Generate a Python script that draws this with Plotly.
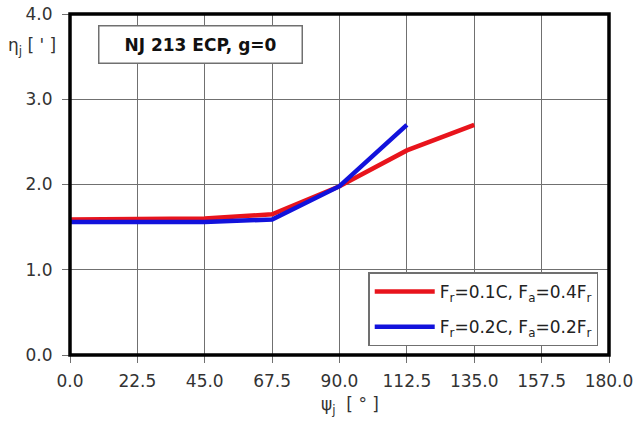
import plotly.graph_objects as go

# Angular positions and eta values for the two load cases
psi_red = [0.0, 22.5, 45.0, 67.5, 90.0, 112.5, 135.0]
eta_red = [1.59, 1.59, 1.60, 1.65, 1.98, 2.40, 2.70]

psi_blue = [0.0, 22.5, 45.0, 67.5, 90.0, 112.5]
eta_blue = [1.56, 1.56, 1.56, 1.59, 1.98, 2.70]

x_ticks = [0.0, 22.5, 45.0, 67.5, 90.0, 112.5, 135.0, 157.5, 180.0]
y_ticks = [0.0, 1.0, 2.0, 3.0, 4.0]

name_red = "F<sub>r</sub>=0.1C, F<sub>a</sub>=0.4F<sub>r</sub>"
name_blue = "F<sub>r</sub>=0.2C, F<sub>a</sub>=0.2F<sub>r</sub>"

FONT = "DejaVu Sans, Verdana, sans-serif"
TXT = "#333333"

fig = go.Figure()
fig.add_trace(go.Scatter(x=psi_red, y=eta_red, mode="lines", name=name_red,
                         legendgroup="r",
                         line=dict(color="#e8141c", width=4.5)))
fig.add_trace(go.Scatter(x=psi_blue, y=eta_blue, mode="lines", name=name_blue,
                         legendgroup="b",
                         line=dict(color="#1212dc", width=4.5)))

axis_common = dict(showgrid=True, gridcolor="#707070", gridwidth=1.3,
                   ticks="outside", ticklen=7, tickcolor="#707070", tickwidth=1.3,
                   tickfont=dict(family=FONT, size=17, color=TXT),
                   showline=False, zeroline=False, automargin=False,
                   ticklabeloverflow="allow")

fig.update_xaxes(range=[0, 180], tickvals=x_ticks,
                 ticktext=[f"{v:.1f}" for v in x_ticks],
                 ticklabelstandoff=4, **axis_common)
fig.update_yaxes(range=[0, 4], tickvals=y_ticks,
                 ticktext=[f"{v:.1f}" for v in y_ticks],
                 ticklabelstandoff=6, **axis_common)

# Heavy frame around the plotting area
fig.add_shape(type="rect", xref="x domain", yref="y domain",
              x0=0, x1=1, y0=0, y1=1, line=dict(color="black", width=3.5),
              layer="above")

fig.add_annotation(text="<b>NJ 213 ECP, g=0</b>", xref="paper", yref="paper",
                   x=0.052, y=0.968, xanchor="left", yanchor="top",
                   width=188, height=22, align="center",
                   showarrow=False, font=dict(family=FONT, size=17, color="#111111"),
                   bgcolor="white", bordercolor="#707070", borderwidth=1.5,
                   borderpad=7)

fig.add_annotation(text="η<sub>j</sub> [ ' ]", xref="paper", yref="paper",
                   x=-0.022, y=0.905, xanchor="right", yanchor="middle",
                   showarrow=False, font=dict(family=FONT, size=17, color=TXT))

fig.add_annotation(text="ψ<sub>j</sub>  [ ° ]", xref="paper", yref="paper",
                   x=0.52, y=-0.108, xanchor="center", yanchor="top",
                   showarrow=False, font=dict(family=FONT, size=17, color=TXT))

fig.update_layout(
    width=634, height=421,
    margin=dict(l=70, r=25, t=14, b=66),
    paper_bgcolor="white", plot_bgcolor="white",
    showlegend=True,
    legend=dict(x=0.98, y=0.025, xanchor="right", yanchor="bottom",
                bgcolor="white", bordercolor="#707070", borderwidth=1.5,
                font=dict(family=FONT, size=17, color="#222222"),
                itemwidth=60, tracegroupgap=10),
)

fig.write_html("out.html")
